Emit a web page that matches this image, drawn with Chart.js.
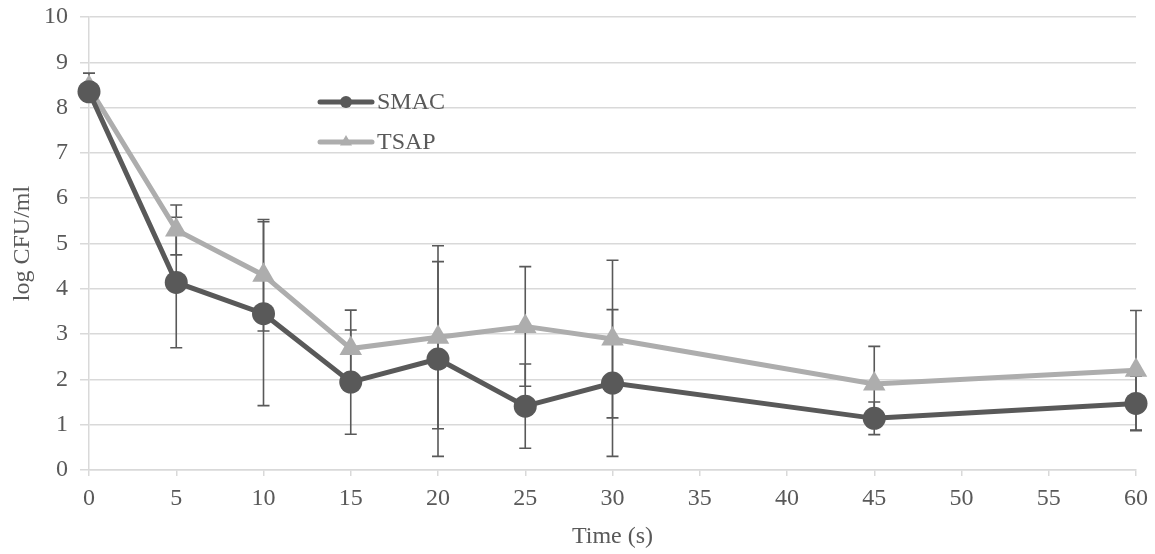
<!DOCTYPE html>
<html>
<head>
<meta charset="utf-8">
<script src="https://cdn.jsdelivr.net/npm/chart.js@4"></script>
<style>
  body { margin: 0; background: #fff; }
  #wrap { width: 1155px; height: 554px; }
</style>
</head>
<body>
<div id="wrap"><canvas id="chart" width="1155" height="554"></canvas></div>
<script>
// Sampling times (s)
const times = [0, 5, 10, 15, 20, 25, 30, 45, 60];

// log CFU/ml per medium
const smacValues = [8.35, 4.14, 3.45, 1.94, 2.45, 1.41, 1.92, 1.14, 1.47];
const smacErrors = [0.1, 1.44, 2.03, 1.15, 2.15, 0.93, 1.62, 0.36, 0.6];
const tsapValues = [8.45, 5.30, 4.30, 2.68, 2.93, 3.17, 2.89, 1.90, 2.20];
const tsapErrors = [0.31, 0.55, 1.23, 0.85, 2.02, 1.32, 1.74, 0.83, 1.32];

const seriesNames = ['SMAC', 'TSAP'];

const darkGrey = '#595959';
const lightGrey = '#ADADAD';
const gridGrey = '#D9D9D9';
const serif = "'Liberation Serif', 'Times New Roman', serif";

function toPoints(values) {
  return times.map((t, i) => ({ x: t, y: values[i] }));
}

// Draw vertical error bars with caps from the scales
const errorBarPlugin = {
  id: 'errorBars',
  beforeDatasetsDraw(chart) {
    const ctx = chart.ctx;
    const xs = chart.scales.x;
    const ys = chart.scales.y;
    const sets = [[smacValues, smacErrors], [tsapValues, tsapErrors]];
    ctx.save();
    ctx.strokeStyle = darkGrey;
    ctx.lineWidth = 1.6;
    sets.forEach(([vals, errs]) => {
      vals.forEach((v, i) => {
        const px = xs.getPixelForValue(times[i]);
        const top = ys.getPixelForValue(v + errs[i]);
        const bot = ys.getPixelForValue(v - errs[i]);
        ctx.beginPath();
        ctx.moveTo(px, top);
        ctx.lineTo(px, bot);
        ctx.moveTo(px - 6, top);
        ctx.lineTo(px + 6, top);
        ctx.moveTo(px - 6, bot);
        ctx.lineTo(px + 6, bot);
        ctx.stroke();
      });
    });
    ctx.restore();
  }
};

// Legend sitting inside the plot, Excel style
const innerLegendPlugin = {
  id: 'innerLegend',
  afterDraw(chart) {
    const ctx = chart.ctx;
    const rows = [
      { name: seriesNames[0], color: darkGrey, style: 'circle', y: 102 },
      { name: seriesNames[1], color: lightGrey, style: 'triangle', y: 142 }
    ];
    ctx.save();
    rows.forEach(r => {
      ctx.strokeStyle = r.color;
      ctx.fillStyle = r.color;
      ctx.lineWidth = 5;
      ctx.lineCap = 'round';
      ctx.beginPath();
      ctx.moveTo(320, r.y);
      ctx.lineTo(372, r.y);
      ctx.stroke();
      Chart.helpers.drawPoint(ctx, { pointStyle: r.style, radius: r.style === 'circle' ? 6 : 7, rotation: 0, borderWidth: 0 }, 346, r.y);
      ctx.fillStyle = darkGrey;
      ctx.font = '24px ' + serif;
      ctx.textBaseline = 'middle';
      ctx.fillText(r.name, 377, r.y + 1);
    });
    ctx.restore();
  }
};

new Chart(document.getElementById('chart'), {
  type: 'line',
  data: {
    datasets: [
      {
        label: seriesNames[0],
        data: toPoints(smacValues),
        borderColor: darkGrey,
        backgroundColor: darkGrey,
        borderWidth: 5,
        pointStyle: 'circle',
        pointRadius: 11.5,
        pointBorderWidth: 0,
        clip: false
      },
      {
        label: seriesNames[1],
        data: toPoints(tsapValues),
        borderColor: lightGrey,
        backgroundColor: lightGrey,
        borderWidth: 5,
        pointStyle: 'triangle',
        pointRadius: 13,
        pointBorderWidth: 0,
        clip: false
      }
    ]
  },
  options: {
    responsive: false,
    animation: false,
    layout: { padding: { top: 17, right: 19, left: 8, bottom: 0 } },
    plugins: {
      legend: { display: false },
      tooltip: { enabled: false }
    },
    scales: {
      x: {
        type: 'linear',
        min: 0,
        max: 60,
        afterFit: (scale) => {
          scale.height = 84;
          scale.paddingLeft = 0;
          scale.paddingRight = 0;
        },
        ticks: {
          stepSize: 5,
          color: darkGrey,
          padding: 8,
          font: { family: serif, size: 24 }
        },
        grid: {
          drawOnChartArea: false,
          color: gridGrey,
          tickLength: 6,
          lineWidth: 1.5
        },
        border: { color: gridGrey, width: 1.5 },
        title: {
          display: true,
          text: 'Time (s)',
          color: darkGrey,
          padding: { top: 0, bottom: 3 },
          font: { family: serif, size: 24 }
        }
      },
      y: {
        min: 0,
        max: 10,
        afterFit: (scale) => {
          scale.width = 81;
          scale.paddingTop = 0;
          scale.paddingBottom = 0;
        },
        ticks: {
          stepSize: 1,
          color: darkGrey,
          padding: 12,
          font: { family: serif, size: 24 }
        },
        grid: {
          color: gridGrey,
          tickLength: 9,
          lineWidth: 1.5
        },
        border: { color: gridGrey, width: 1.5 },
        title: {
          display: true,
          text: 'log CFU/ml',
          color: darkGrey,
          padding: { top: 0, bottom: 0 },
          font: { family: serif, size: 24 }
        }
      }
    }
  },
  plugins: [errorBarPlugin, innerLegendPlugin]
});
</script>
</body>
</html>
